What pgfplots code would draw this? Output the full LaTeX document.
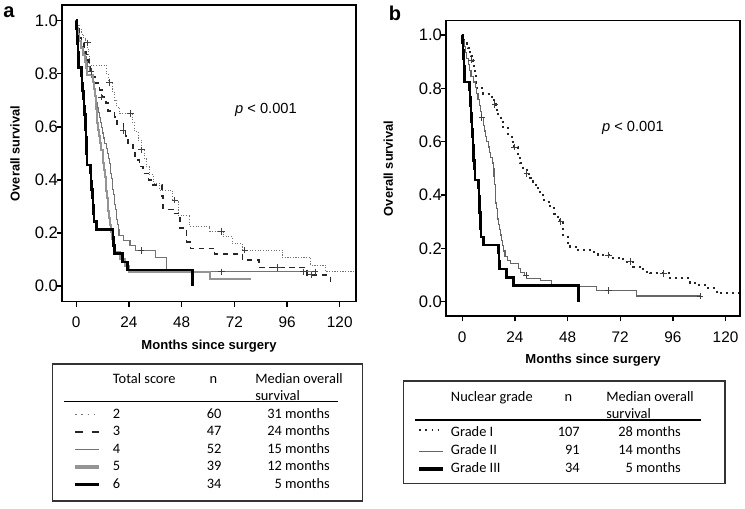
\documentclass[border=0pt]{standalone}
\usepackage{fontspec}
\setmainfont{Liberation Sans}
\newfontfamily\tabfont{Carlito}
\usepackage{pgfplots}
\pgfplotsset{compat=1.18}

\pgfplotsset{
  kmaxis/.style={
    scale only axis,
    axis line style={line width=1.1pt},
    tick align=outside,
    xtick pos=bottom, ytick pos=left,
    major tick length=4pt,
    tick style={line width=1pt, black},
    xtick={0,24,48,72,96,120},
    ytick={0,0.2,0.4,0.6,0.8,1.0},
    /pgf/number format/assume math mode=true,
    xticklabel style={font=\fontsize{11.5}{13}\selectfont, yshift=-4pt},
    yticklabel style={font=\fontsize{12.5}{14}\selectfont, xshift=4.5pt, /pgf/number format/.cd, fixed, fixed zerofill, precision=1},
    every axis x label/.style={at={(rel axis cs:0.5,-0.15)}, anchor=center, font=\bfseries\fontsize{9.8}{12}\selectfont},
  },
  s2/.style={const plot, black!55, line width=0.7pt, dash pattern=on 0.8pt off 1.2pt},
  s3/.style={const plot, black!85, line width=1.2pt, dash pattern=on 4pt off 3.5pt},
  s4/.style={const plot, black!55, line width=0.8pt},
  s5/.style={const plot, black!42, line width=1.5pt},
  s6/.style={const plot, black, line width=2pt},
  g1/.style={const plot, black!85, line width=1.5pt, dash pattern=on 1.5pt off 3pt},
  g2/.style={const plot, black!60, line width=0.8pt},
  g3/.style={const plot, black, line width=2pt},
  cens/.style={only marks, mark=+, mark size=2.4pt, black!75, mark options={line width=0.7pt, solid}},
}

\begin{document}
\begin{tikzpicture}
\useasboundingbox (0,0) rectangle (558.75pt,-381pt);

% ---------------- Panel a ----------------
\begin{axis}[kmaxis,
  at={(46.5pt,-226.3pt)}, anchor=south west,
  width=220.5pt, height=222.5pt,
  xmin=-6.46, xmax=127.4, ymin=-0.059, ymax=1.059,
  xlabel={Months since surgery},
  ylabel={Overall survival},
  every axis y label/.style={at={(rel axis cs:-0.16,0.5)}, rotate=90, anchor=center, font=\bfseries\fontsize{9.6}{12}\selectfont},
]
% score 2 (n=60)
\addplot[s2] coordinates {(0,1) (0.8,0.983) (1.6,0.967) (2.4,0.95) (3.4,0.933) (4.4,0.917) (5,0.9) (5.5,0.867) (6.1,0.833) (13.7,0.80) (14.5,0.767) (16.5,0.733) (17.5,0.70) (18.5,0.675) (19.8,0.65) (25.5,0.617) (26.6,0.583) (28.2,0.55) (29.7,0.513) (31,0.48) (31.9,0.45) (33.2,0.42) (35,0.387) (38,0.36) (44,0.324) (46.4,0.268) (51.8,0.224) (60.9,0.205) (67,0.186) (71,0.16) (75.7,0.136) (93.9,0.108) (106.8,0.079) (113.6,0.054) (126.5,0.054)};
\addplot[cens] coordinates {(5.3,0.917) (15.2,0.767) (24.8,0.65) (29.7,0.513) (44.9,0.324) (66.2,0.205) (76.8,0.136)};
% score 3 (n=47)
\addplot[s3] coordinates {(0,1) (0.6,0.979) (1.2,0.957) (1.8,0.936) (2.5,0.915) (3.5,0.894) (4.5,0.872) (5.2,0.851) (5.8,0.83) (6.5,0.809) (7.5,0.787) (8.5,0.766) (10.6,0.74) (11.8,0.712) (13.7,0.69) (14.5,0.66) (17.5,0.637) (18.5,0.61) (21.6,0.587) (22.5,0.565) (23.6,0.54) (25.8,0.508) (26.8,0.475) (28.9,0.45) (30.5,0.425) (33,0.40) (35,0.38) (39,0.34) (39.5,0.289) (44,0.274) (47.2,0.218) (50.3,0.167) (52,0.142) (63,0.121) (75.7,0.098) (83.2,0.07) (105,0.042) (115.7,0.0)};
\addplot[cens] coordinates {(6.8,0.809) (11.4,0.712) (21.3,0.587) (91.8,0.07) (107,0.042)};
% score 4 (n=52)
\addplot[s4] coordinates {(0,1) (0.4,0.981) (0.8,0.962) (1.2,0.942) (1.6,0.923) (2.2,0.904) (3,0.885) (3.8,0.865) (4.5,0.846) (5.2,0.827) (6,0.808) (7,0.788) (7.6,0.769) (8,0.750) (8.4,0.731) (8.8,0.712) (9.2,0.692) (9.6,0.673) (10,0.654) (10.5,0.635) (11,0.615) (11.5,0.596) (12,0.577) (12.5,0.558) (13,0.538) (13.6,0.519) (14.2,0.500) (14.8,0.481) (15.2,0.462) (15.5,0.442) (15.8,0.423) (16.1,0.404) (16.4,0.385) (16.7,0.365) (17,0.346) (17.3,0.327) (17.6,0.308) (17.9,0.288) (18.2,0.269) (18.5,0.250) (18.8,0.231) (19.1,0.212) (19.5,0.192) (21.5,0.173) (24.5,0.154) (27,0.134) (36,0.106) (41,0.054) (110,0.054)};
\addplot[cens] coordinates {(29.6,0.134) (66.2,0.054) (103.5,0.054) (108.8,0.054)};
% score 5 (n=39)
\addplot[s5] coordinates {(0,1.0) (0.5,0.974) (1,0.949) (1.5,0.923) (2,0.897) (3,0.872) (4,0.846) (4.5,0.821) (5,0.795) (7.5,0.769) (8,0.744) (8.5,0.718) (8.8,0.692) (9,0.667) (9.3,0.641) (9.6,0.615) (10,0.590) (10.5,0.564) (11,0.538) (11.5,0.513) (12,0.487) (12.4,0.462) (12.8,0.436) (13.1,0.410) (13.4,0.385) (13.7,0.359) (14,0.333) (14.3,0.308) (14.6,0.282) (15,0.256) (15.4,0.231) (15.8,0.205) (16.3,0.179) (17,0.154) (17.8,0.128) (20,0.103) (22,0.077) (24,0.054) (60.9,0.025) (79.8,0.025)};
% score 6 (n=34)
\addplot[s6] coordinates {(0,1.0) (0.2,0.971) (0.4,0.941) (0.6,0.912) (0.8,0.882) (1.0,0.853) (1.1,0.824) (2.4,0.794) (2.7,0.765) (3.0,0.735) (3.3,0.706) (3.6,0.676) (3.9,0.647) (4.1,0.618) (4.3,0.588) (4.5,0.559) (4.6,0.529) (4.8,0.500) (4.9,0.456) (6.4,0.426) (6.7,0.395) (7.0,0.365) (7.3,0.334) (7.6,0.304) (7.9,0.274) (8.1,0.243) (9.1,0.213) (16.7,0.182) (17.1,0.152) (17.5,0.122) (21,0.091) (23.5,0.061) (53,0.0)};
\node[font=\fontsize{11}{13}\selectfont] at (axis cs:86.4,0.663) {\textit{p} < 0.001};
\end{axis}

% ---------------- Panel b ----------------
\begin{axis}[kmaxis,
  at={(334.5pt,-237pt)}, anchor=south west,
  width=220.5pt, height=221.5pt,
  xmin=-7.38, xmax=126.6, ymin=-0.054, ymax=1.054,
  xlabel={Months since surgery},
  ylabel={Overall survival},
  every axis y label/.style={at={(rel axis cs:-0.196,0.5)}, rotate=90, anchor=center, font=\bfseries\fontsize{9.6}{12}\selectfont},
]
% grade I (n=107)
\addplot[g1] coordinates {(0,1) (0.5,0.99) (1,0.98) (1.5,0.97) (2,0.96) (2.5,0.95) (3,0.94) (3.5,0.93) (4,0.92) (4.5,0.906) (5,0.89) (5.5,0.87) (5.8,0.85) (6.3,0.82) (6.6,0.80) (9.6,0.78) (13.4,0.76) (14.5,0.74) (15.2,0.72) (16.5,0.70) (17.5,0.675) (18.7,0.65) (21,0.625) (22.5,0.60) (23.6,0.58) (25.6,0.544) (26.5,0.52) (27.5,0.50) (29.4,0.48) (31,0.465) (32.4,0.45) (33.5,0.425) (35.5,0.40) (37.5,0.375) (40,0.35) (42,0.33) (43.5,0.31) (44.6,0.30) (46,0.25) (48,0.22) (49.1,0.206) (52.2,0.194) (58.3,0.185) (62,0.175) (68,0.165) (73.5,0.15) (78,0.131) (82.6,0.1125) (85.6,0.106) (94.7,0.0875) (103.8,0.069) (106.9,0.0625) (111.4,0.05) (116,0.031) (126,0.031)};
\addplot[cens] coordinates {(4.3,0.906) (14.9,0.74) (23.6,0.58) (29.4,0.48) (44.9,0.30) (66.6,0.175) (76.5,0.15) (91.7,0.106)};
% grade II (n=91)
\addplot[g2] coordinates {(0,1) (0.5,0.978) (1,0.956) (1.5,0.934) (2,0.912) (3,0.89) (3.5,0.868) (4,0.846) (5,0.824) (6,0.802) (6.6,0.78) (7.2,0.758) (7.8,0.736) (8.4,0.714) (9,0.69) (9.5,0.66) (10,0.64) (10.5,0.62) (11.1,0.60) (11.8,0.58) (12.4,0.56) (13,0.54) (13.6,0.52) (14.2,0.50) (14.5,0.47) (14.8,0.44) (15,0.40) (15.3,0.37) (15.6,0.35) (15.9,0.33) (16.2,0.31) (16.5,0.29) (16.9,0.27) (17.3,0.25) (17.8,0.23) (18.2,0.21) (18.7,0.19) (19.5,0.17) (20.5,0.155) (21.8,0.144) (25.6,0.125) (26.5,0.11) (28.6,0.099) (29.4,0.0875) (35.5,0.08) (40.7,0.0625) (52.2,0.056) (61.3,0.041) (79.5,0.021) (108.4,0.021)};
\addplot[cens] coordinates {(8.9,0.69) (29.1,0.099) (66.6,0.041) (108.4,0.021)};
% grade III (n=34)
\addplot[g3] coordinates {(0,1.0) (0.2,0.971) (0.4,0.941) (0.6,0.912) (0.8,0.882) (1.0,0.853) (1.1,0.824) (3.2,0.794) (3.5,0.765) (3.8,0.735) (4.0,0.706) (4.3,0.676) (4.5,0.647) (4.7,0.618) (4.9,0.588) (5.1,0.559) (5.3,0.529) (5.5,0.500) (5.8,0.456) (7.4,0.426) (7.6,0.395) (7.8,0.365) (8.0,0.334) (8.2,0.304) (8.4,0.274) (8.6,0.243) (9.6,0.213) (16.5,0.182) (16.8,0.152) (17.0,0.122) (20.3,0.091) (23.3,0.061) (53,0.0)};
\node[font=\fontsize{11}{13}\selectfont] at (axis cs:77.8,0.651) {\textit{p} < 0.001};
\end{axis}

% ---------------- Panel letters and tables ----------------
\begin{scope}[x=0.75pt, y=-0.75pt]
\node[font=\bfseries\fontsize{15}{17}\selectfont] at (9,12) {a};
\node[font=\bfseries\fontsize{15}{17}\selectfont] at (395,13) {b};

% table a
\draw[line width=1pt, black!80] (52.7,364) rectangle (362.7,501);
\draw[line width=1.1pt] (64,401.7) -- (337.7,401.7);
\begin{scope}[every node/.style={font=\tabfont\fontsize{10.8}{12}\selectfont, inner sep=0pt}]
\node[anchor=mid west] at (112.7,380) {Total score};
\node[anchor=mid] at (213.3,380) {n};
\node[anchor=mid west] at (255,380) {Median overall};
\node[anchor=mid west] at (255,396.5) {survival};
\foreach \yy/\sc/\nn/\mm in {414.5/2/60/31 months, 432/3/47/24 months, 449.5/4/52/15 months, 467/5/39/12 months, 484.5/6/34/5 months}{
  \node[anchor=mid west] at (112.7,\yy) {\sc};
  \node[anchor=mid east] at (221.7,\yy) {\nn};
  \node[anchor=mid east] at (330,\yy) {\mm};
}
\end{scope}
\draw[black!55, line width=1.2pt, dash pattern=on 1.2pt off 3.5pt] (75,414.5) -- (99.3,414.5);
\draw[black!85, line width=1.6pt, dash pattern=on 6pt off 6.5pt] (75,432) -- (99.3,432);
\draw[black!55, line width=0.8pt] (75,449.5) -- (99.3,449.5);
\draw[black!42, line width=2.6pt] (75,467) -- (99.3,467);
\draw[black, line width=2.6pt] (75,484.5) -- (99.3,484.5);

% table b
\draw[line width=1pt, black!80] (403.3,381) rectangle (725,483.3);
\draw[line width=1.1pt] (415,420) -- (701,420);
\begin{scope}[every node/.style={font=\tabfont\fontsize{10.8}{12}\selectfont, inner sep=0pt}]
\node[anchor=mid west] at (450.7,398.3) {Nuclear grade};
\node[anchor=mid] at (568.3,398.3) {n};
\node[anchor=mid west] at (606,398.3) {Median overall};
\node[anchor=mid west] at (606,414.8) {survival};
\foreach \yy/\sc/\nn/\mm in {433.3/Grade I/107/28 months, 451.3/Grade II/91/14 months, 469/Grade III/34/5 months}{
  \node[anchor=mid west] at (450.7,\yy) {\sc};
  \node[anchor=mid east] at (580,\yy) {\nn};
  \node[anchor=mid east] at (681,\yy) {\mm};
}
\end{scope}
\draw[black!85, line width=1.2pt, dash pattern=on 1.2pt off 3.5pt] (419,430) -- (443,430);
\draw[black!60, line width=0.8pt] (419,451.3) -- (443,451.3);
\draw[black, line width=2.6pt] (419,469) -- (443,469);
\end{scope}
\end{tikzpicture}
\end{document}
